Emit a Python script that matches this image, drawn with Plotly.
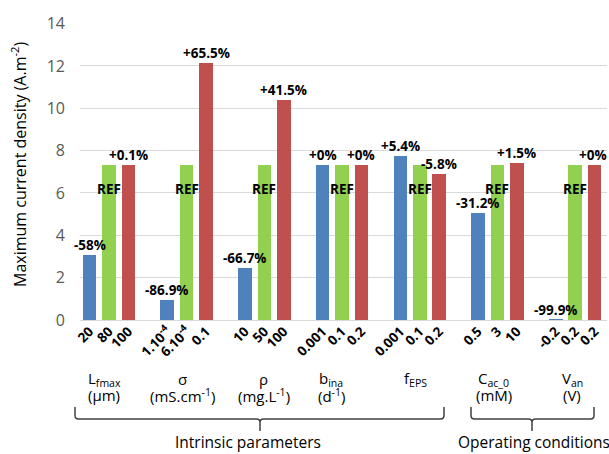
import plotly.graph_objects as go

# ---------------- data ----------------
groups = ["L<sub>fmax</sub>", "σ", "ρ", "b<sub>ina</sub>", "f<sub>EPS</sub>", "C<sub>ac_0</sub>", "V<sub>an</sub>"]
units = ["(µm)", "(mS.cm<sup>-1</sup>)", "(mg.L<sup>-1</sup>)", "(d<sup>-1</sup>)", "", "(mM)", "(V)"]

low_vals = [3.08, 0.96, 2.44, 7.33, 7.73, 5.04, 0.007]
ref_vals = [7.33, 7.33, 7.33, 7.33, 7.33, 7.33, 7.33]
high_vals = [7.34, 12.13, 10.37, 7.33, 6.90, 7.44, 7.33]

low_labels = ["-58%", "-86.9%", "-66.7%", "+0%", "+5.4%", "-31.2%", "-99.9%"]
high_labels = ["+0.1%", "+65.5%", "+41.5%", "+0%", "-5.8%", "+1.5%", "+0%"]
ref_label = "REF"

low_ticks = ["20", "1.10<sup>-4</sup>", "10", "0.001", "0.001", "0.5", "-0.2"]
ref_ticks = ["80", "6.10<sup>-4</sup>", "50", "0.1", "0.1", "3", "0.2"]
high_ticks = ["100", "0.1", "100", "0.2", "0.2", "10", "0.2"]

sections = ["Intrinsic parameters", "Operating conditions"]

# ---------------- layout helpers ----------------
FONT = "Open Sans"
BLUE, GREEN, RED = "#4F81BD", "#92D050", "#C0504D"
OFF, BW = 0.25, 0.175
PAGE = 0                      # page body margin removed via post_script
W, H = 609 - PAGE, 454 - PAGE
ML, MR, MT, MB = 80 - PAGE, 2, 23 - PAGE, 134
PW, PH = W - ML - MR, H - MT - MB

def px(x):
    # x: pixel in the 609x454 window
    return (x - PAGE - ML) / PW

def py(y):
    return (H - MB - (y - PAGE)) / PH

n = len(groups)
xs_low = [i - OFF for i in range(n)]
xs_ref = [i for i in range(n)]
xs_high = [i + OFF for i in range(n)]

fig = go.Figure()
for xs, ys, col in [(xs_low, low_vals, BLUE), (xs_ref, ref_vals, GREEN), (xs_high, high_vals, RED)]:
    fig.add_trace(go.Bar(x=xs, y=ys, width=BW, marker=dict(color=col, line=dict(width=0)),
                         showlegend=False, hoverinfo="y"))

tickvals, ticktext = [], []
for i in range(n):
    for xs, tt in [(xs_low, low_ticks), (xs_ref, ref_ticks), (xs_high, high_ticks)]:
        tickvals.append(xs[i])
        ticktext.append("<b>" + tt[i] + "</b>")

annotations = []
lab_font = dict(family=FONT, size=13.5, color="black")
for i in range(n):
    annotations.append(dict(x=xs_low[i], y=low_vals[i], text="<b>" + low_labels[i] + "</b>",
                            xref="x", yref="y", showarrow=False, yanchor="bottom", font=lab_font, borderpad=0))
    annotations.append(dict(x=xs_high[i], y=high_vals[i], text="<b>" + high_labels[i] + "</b>",
                            xref="x", yref="y", showarrow=False, yanchor="bottom", font=lab_font, borderpad=0,
                            xshift=-2 if i == n - 1 else 0))
    annotations.append(dict(x=xs_ref[i], y=ref_vals[i] * 0.845, text="<b>" + ref_label + "</b>",
                            xref="x", yref="y", showarrow=False, yanchor="middle", font=lab_font))

# group names under the axis (slightly shifted as in the original)
name_shift = [-0.06, -0.05, -0.01, -0.14, -0.06, -0.05, -0.04]
name_font = dict(family=FONT, size=15, color="black")
for i in range(n):
    annotations.append(dict(x=i + name_shift[i], y=py(379), xref="x", yref="paper", text=groups[i],
                            showarrow=False, yanchor="middle", font=name_font))
    if units[i]:
        annotations.append(dict(x=i + name_shift[i], y=py(395), xref="x", yref="paper", text=units[i],
                                showarrow=False, yanchor="middle", font=name_font))

annotations.append(dict(x=px(248), y=py(442), xref="paper", yref="paper", text=sections[0],
                        showarrow=False, yanchor="middle", xanchor="center",
                        font=dict(family=FONT, size=15.5, color="black")))
annotations.append(dict(x=px(456), y=py(442), xref="paper", yref="paper", text=sections[1],
                        showarrow=False, yanchor="middle", xanchor="left",
                        font=dict(family=FONT, size=15.5, color="black")))

# y-axis title
annotations.append(dict(x=px(19), y=py(165), xref="paper", yref="paper",
                        text="Maximum current density (A.m<sup>-2</sup>)", textangle=-90,
                        showarrow=False, xanchor="center", yanchor="middle",
                        font=dict(family=FONT, size=16, color="black")))

def brace(x0, x1, xm, ytop=407, yline=419, ytip=431, r=3.5):
    d = f"M {px(x0)} {py(ytop)} L {px(x0)} {py(yline - r)} Q {px(x0)} {py(yline)} {px(x0 + r)} {py(yline)} "
    d += f"L {px(xm - r)} {py(yline)} Q {px(xm)} {py(yline)} {px(xm)} {py(yline + r)} L {px(xm)} {py(ytip)} "
    d += f"M {px(xm)} {py(yline + r)} Q {px(xm)} {py(yline)} {px(xm + r)} {py(yline)} "
    d += f"L {px(x1 - r)} {py(yline)} Q {px(x1)} {py(yline)} {px(x1)} {py(yline - r)} L {px(x1)} {py(ytop)}"
    return dict(type="path", path=d, xref="paper", yref="paper",
                line=dict(color="#404040", width=1.5))

shapes = [brace(75, 444, 260), brace(471, 594, 532)]

fig.update_layout(
    width=W, height=H,
    margin=dict(l=ML, r=MR, t=MT, b=MB),
    paper_bgcolor="white", plot_bgcolor="white",
    font=dict(family=FONT),
    xaxis=dict(range=[-0.373, 6.41], tickmode="array", tickvals=tickvals, ticktext=ticktext,
               tickangle=-45, tickfont=dict(family=FONT, size=13.5, color="black"),
               showgrid=False, zeroline=False, showline=False, ticks=""),
    yaxis=dict(range=[0, 14.03], dtick=2, tick0=0, showgrid=True, gridcolor="#d9d9d9", gridwidth=1,
               zeroline=True, zerolinecolor="#d9d9d9", zerolinewidth=1, showline=False,
               tickfont=dict(family=FONT, size=16, color="#595959"), ticklabelstandoff=14),
    annotations=annotations, shapes=shapes, bargap=0,
)

fig.write_html("out.html", config={"displayModeBar": False},
               post_script="document.body.style.margin='0';document.body.style.overflow='hidden';")
